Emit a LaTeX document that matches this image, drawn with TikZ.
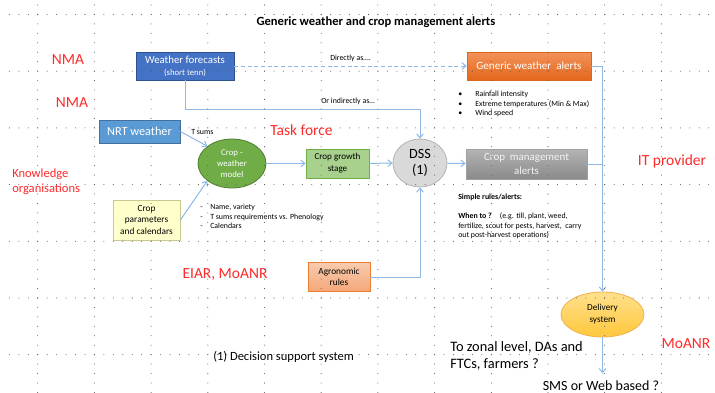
\documentclass[tikz,border=0pt]{standalone}
\usepackage{fontspec}
\setmainfont{Carlito}
\usepackage{tikz}
\usetikzlibrary{arrows.meta,shapes.geometric}

\definecolor{wfblue}{HTML}{4472C4}
\definecolor{wfborder}{HTML}{2F528F}
\definecolor{gwatop}{HTML}{F4925A}
\definecolor{gwabot}{HTML}{E2671B}
\definecolor{gwaborder}{HTML}{D9681F}
\definecolor{nrtblue}{HTML}{5B9BD5}
\definecolor{nrtborder}{HTML}{41719C}
\definecolor{cwmgreen}{HTML}{70AD47}
\definecolor{cwmborder}{HTML}{507E32}
\definecolor{cgsfill}{HTML}{A9D18E}
\definecolor{cgsborder}{HTML}{70AD47}
\definecolor{cpcfill}{HTML}{FFFFCC}
\definecolor{cpcborder}{HTML}{C9C98F}
\definecolor{dssfill}{HTML}{D9D9D9}
\definecolor{dssborder}{HTML}{B4B4B4}
\definecolor{cmatop}{HTML}{B4B4B4}
\definecolor{cmabot}{HTML}{8A8A8A}
\definecolor{cmaborder}{HTML}{A0A0A0}
\definecolor{agrtop}{HTML}{F8CBAD}
\definecolor{agrbot}{HTML}{F4A77A}
\definecolor{agrborder}{HTML}{ED7D31}
\definecolor{deltop}{HTML}{FFE08C}
\definecolor{delbot}{HTML}{FFC83C}
\definecolor{delborder}{HTML}{F2B04A}
\definecolor{linkblue}{HTML}{8EB8E5}
\definecolor{orgred}{HTML}{FF2A2A}

\begin{document}
\begin{tikzpicture}[
    x=0.75pt, y=-0.75pt,
    every node/.style={inner sep=0pt},
    box/.style={rectangle, draw, line width=0.6pt, align=center},
    oval/.style={ellipse, draw, line width=0.6pt, align=center},
    org/.style={text=orgred, font=\fontsize{11.6}{14}\selectfont},
    note/.style={font=\fontsize{5.9}{7.1}\selectfont, align=left},
    link/.style={draw=linkblue, line width=0.75pt, -{Straight Barb[length=3pt,width=5pt]}},
    wire/.style={draw=linkblue, line width=0.75pt}
]
\useasboundingbox (0,0) rectangle (715,393);
\fill[white] (0,0) rectangle (715,393);

% Title
\node[anchor=base, font=\bfseries\fontsize{9.4}{11}\selectfont] (title) at (376,25) {Generic weather and crop management alerts};

% Nodes
\node[box, fill=wfblue, draw=wfborder, text=white, minimum width=73.5pt, minimum height=21pt, font=\fontsize{8.1}{9}\selectfont] (wf) at (185,66) {Weather forecasts\\{\fontsize{6.5}{7}\selectfont (short tenn)}};
\node[box, top color=gwatop, bottom color=gwabot, draw=gwaborder, text=white, minimum width=93pt, minimum height=21pt, font=\fontsize{8.3}{10}\selectfont] (gwa) at (529,66) {Generic weather\ \ alerts};
\node[box, fill=nrtblue, draw=nrtborder, text=white, minimum width=60.75pt, minimum height=17.25pt, font=\fontsize{9.2}{11}\selectfont] (nrt) at (139.5,131.5) {NRT weather};
\node[oval, fill=cwmgreen, draw=cwmborder, text=white, minimum width=51pt, minimum height=36.75pt, font=\fontsize{6.6}{8.25}\selectfont] (cwm) at (232,163.5) {Crop -\\weather\\model};
\node[box, fill=cgsfill, draw=cgsborder, minimum width=47.25pt, minimum height=21.75pt, font=\fontsize{6.8}{9}\selectfont] (cgs) at (337.5,163.5) {Crop growth\\stage};
\node[box, fill=cpcfill, draw=cpcborder, minimum width=50.25pt, minimum height=30pt, font=\fontsize{7}{8.5}\selectfont] (cpc) at (146.5,220) {Crop\\parameters\\and calendars};
\node[oval, fill=dssfill, draw=dssborder, minimum width=40.5pt, minimum height=36pt, font=\fontsize{10.6}{12.5}\selectfont] (dss) at (420,163) {DSS\\(1)};
\node[box, top color=cmatop, bottom color=cmabot, draw=cmaborder, text=white!92!gray, minimum width=90.75pt, minimum height=22.5pt, font=\fontsize{8.2}{10}\selectfont] (cma) at (526.5,164) {Crop\ \ management\\alerts};
\node[box, top color=agrtop, bottom color=agrbot, draw=agrborder, minimum width=46.5pt, minimum height=21.75pt, font=\fontsize{7}{8.5}\selectfont] (agr) at (339,277) {Agronomic\\rules};
\node[oval, top color=deltop, bottom color=delbot, draw=delborder, minimum width=62.25pt, minimum height=33.75pt, font=\fontsize{6.9}{9}\selectfont] (del) at (602.5,314.5) {Delivery\\system};

% Organisations
\node[org, anchor=base] (nma1) at (68,64) {NMA};
\node[org, anchor=base] (nma2) at (72,107) {NMA};
\node[org, anchor=north west, align=left, font=\fontsize{9.4}{11}\selectfont] (know) at (12,168.5) {Knowledge\\organisations};
\node[org, anchor=base] (task) at (301.5,135) {Task force};
\node[org, anchor=base] (eiar) at (225,278) {EIAR, MoANR};
\node[org, anchor=base] (itp) at (672,165) {IT provider};
\node[org, anchor=base] (moanr) at (686,348) {MoANR};

% Notes
\node[note, anchor=base west] (direct) at (330,60) {Directly as\dots.};
\node[note, anchor=base west] (indirect) at (321,103) {Or indirectly as\dots};
\node[note, anchor=base west] (tsums) at (191,134) {T sums};
\node[note, anchor=north west] (wxlist) at (458,91) {\makebox[12.75pt][l]{\textbullet}Rainfall intensity\\\makebox[12.75pt][l]{\textbullet}Extreme temperatures (Min \& Max)\\\makebox[12.75pt][l]{\textbullet}Wind speed};
\node[note, anchor=north west] (croplist) at (200,204) {\makebox[7.5pt][l]{-}Name, variety\\\makebox[7.5pt][l]{-}T sums requirements vs. Phenology\\\makebox[7.5pt][l]{-}Calendars};
\node[note, anchor=north west] (rules) at (458,194) {\textbf{Simple rules/alerts:}\\[7.1pt]\textbf{When to ?}\hspace{6pt}(e.g. till, plant, weed,\\fertilize, scout for pests, harvest,\ \ carry\\out post-harvest operations)};
\node[anchor=base west, font=\fontsize{9.4}{11}\selectfont] (dsslegend) at (213,360) {(1) Decision support system};
\node[anchor=north west, align=left, font=\fontsize{10.8}{12.75}\selectfont] (zonal) at (450,341) {To zonal level, DAs and\\FTCs, farmers ?};
\node[anchor=base, font=\fontsize{10.5}{12}\selectfont] (sms) at (601,390) {SMS or Web based ?};

% Arrows
\draw[link, dash pattern=on 3pt off 2pt] (wf.east) -- (gwa.west);
\draw[link] (wf.south) -- ++(0,29) -| (dss.north);
\draw[link] (nrt.east) -- (cwm.145);
\draw[link] (cpc.east) -- (cwm.215);
\draw[link] (cwm) -- (cgs);
\draw[link] (cgs) -- (dss);
\draw[link] (dss) -- (cma);
\draw[link] (agr.east) -| (dss.south);
\draw[link] (gwa.east) -| (del.north);
\draw[wire] (cma.east) -- (cma.east -| del.north);
\draw[link, shorten >=5pt] (del.south) -- (del.south |- sms.north);

% Grid
\foreach \gx in {0,...,11}
  \foreach \gy in {0,...,41}
    \fill[black!65] (37.7+56.7*\gx, 5+9.45*\gy) circle (0.4pt);
\foreach \gy in {0,...,6}
  \foreach \gx in {0,...,74}
    \fill[black!65] (9.4+9.45*\gx, 14.5+56.7*\gy) circle (0.4pt);
\end{tikzpicture}
\end{document}
